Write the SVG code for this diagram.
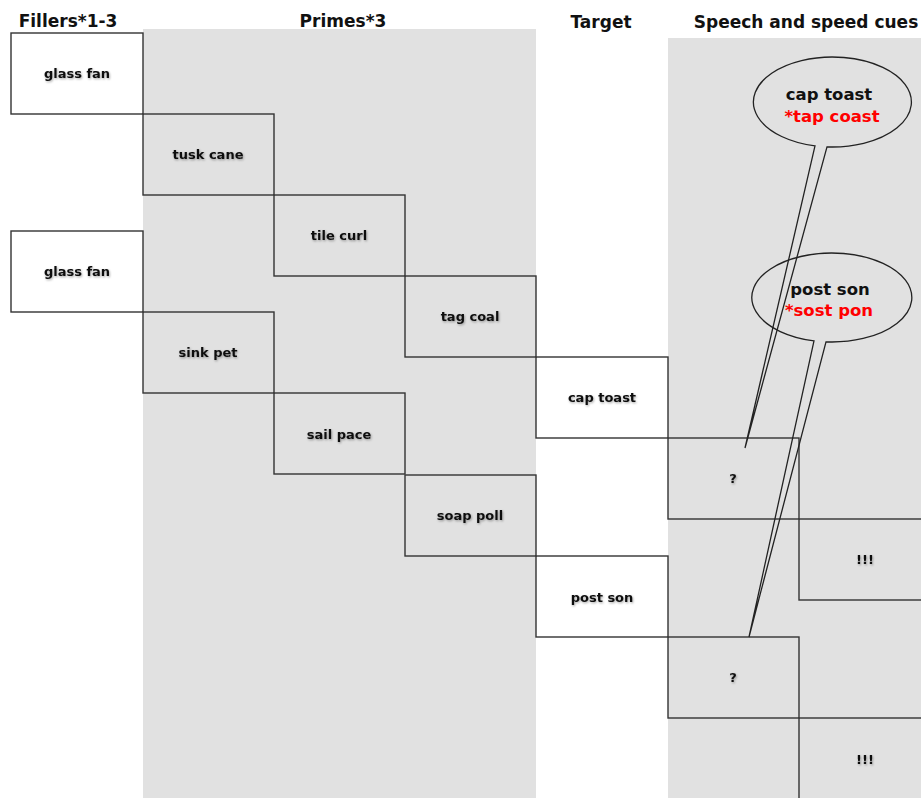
<svg xmlns="http://www.w3.org/2000/svg" width="921" height="798" viewBox="0 0 921 798">
<defs>
<filter id="sh" x="-20%" y="-40%" width="140%" height="180%">
<feDropShadow dx="0.8" dy="1.2" stdDeviation="0.9" flood-color="#000" flood-opacity="0.35"/>
</filter>
<style>
.panel{fill:#e1e1e1;stroke:none}
.box{fill:none;stroke:#333;stroke-width:1.4}
.lbl{font-family:"DejaVu Sans",Verdana,sans-serif;font-weight:bold;font-size:13px;fill:#111;text-anchor:middle;filter:url(#sh)}
.hdr{font-family:"DejaVu Sans",Verdana,sans-serif;font-weight:bold;font-size:17px;fill:#111;text-anchor:middle}
.bub{fill:none;stroke:#222;stroke-width:1.3}
.bt{font-family:"DejaVu Sans",Verdana,sans-serif;font-weight:bold;font-size:16.5px;text-anchor:middle}
</style>
</defs>
<rect width="921" height="798" fill="#fff"/>
<rect class="panel" x="143" y="29" width="393" height="769"/>
<rect class="panel" x="668" y="38" width="253" height="760"/>

<text class="hdr" x="68" y="27">Fillers*1-3</text>
<text class="hdr" x="343" y="27">Primes*3</text>
<text class="hdr" x="601" y="28">Target</text>
<text class="hdr" x="806" y="28">Speech and speed cues</text>

<g id="filler1"><rect class="box" x="11" y="33" width="132" height="81"/><text class="lbl" x="77" y="78">glass fan</text></g>
<g id="prime1"><rect class="box" x="143" y="114" width="131" height="81"/><text class="lbl" x="208" y="159">tusk cane</text></g>
<g id="prime2"><rect class="box" x="274" y="195" width="131" height="81"/><text class="lbl" x="339" y="240">tile curl</text></g>
<g id="prime3"><rect class="box" x="405" y="276" width="131" height="81"/><text class="lbl" x="470" y="321">tag coal</text></g>
<g id="target1"><rect class="box" x="536" y="357" width="132" height="81"/><text class="lbl" x="602" y="402">cap toast</text></g>
<g id="q1"><rect class="box" x="668" y="438" width="131" height="81"/><text class="lbl" x="733" y="483">?</text></g>
<g id="ex1"><rect class="box" x="799" y="519" width="131" height="81"/><text class="lbl" x="865" y="564">!!!</text></g>

<g id="filler2"><rect class="box" x="11" y="231" width="132" height="81"/><text class="lbl" x="77" y="276">glass fan</text></g>
<g id="prime4"><rect class="box" x="143" y="312" width="131" height="81"/><text class="lbl" x="208" y="357">sink pet</text></g>
<g id="prime5"><rect class="box" x="274" y="393" width="131" height="81"/><text class="lbl" x="339" y="439">sail pace</text></g>
<g id="prime6"><rect class="box" x="405" y="475" width="131" height="81"/><text class="lbl" x="470" y="520">soap poll</text></g>
<g id="target2"><rect class="box" x="536" y="556" width="132" height="81"/><text class="lbl" x="602" y="602">post son</text></g>
<g id="q2"><rect class="box" x="668" y="637" width="131" height="81"/><text class="lbl" x="733" y="682">?</text></g>
<g id="ex2"><rect class="box" x="799" y="718" width="131" height="81"/><text class="lbl" x="865" y="764">!!!</text></g>

<g id="connectors">
<path class="bub" d="M827,146.9 A79,45 0 1 0 815,145.9 L745,448 Z"/>
<path class="bub" d="M826,341.9 A80,44.5 0 1 0 814,340.9 L749,637 Z"/>
</g>
<g id="bubble1">
<text class="bt" x="829" y="100" fill="#111">cap toast</text>
<text class="bt" x="832" y="122" fill="#f00">*tap coast</text>
</g>
<g id="bubble2">
<text class="bt" x="830" y="295" fill="#111">post son</text>
<text class="bt" x="829" y="316" fill="#f00">*sost pon</text>
</g>
</svg>
